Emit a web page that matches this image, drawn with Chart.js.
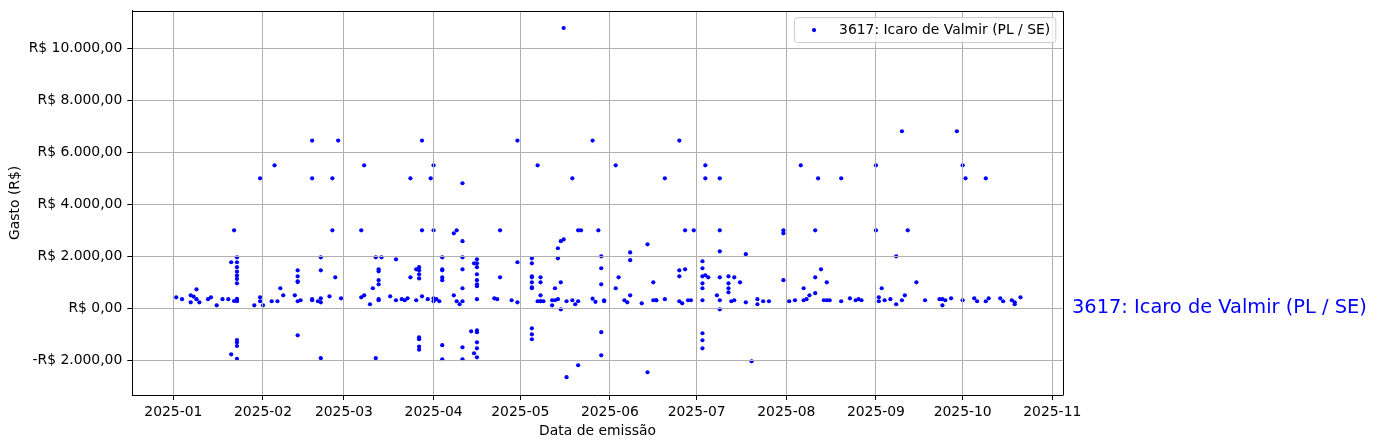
<!DOCTYPE html>
<html>
<head>
<meta charset="utf-8">
<script src="https://cdn.jsdelivr.net/npm/chart.js@4.4.1/dist/chart.umd.min.js"></script>
<style>
    html, body { margin: 0; padding: 0; background: #fff; }
    #wrap { width: 1377px; height: 448px; }
</style>
</head>
<body>
<div id="wrap"><canvas id="chart" width="1377" height="448"></canvas></div>
<script>
// Data
const seriesLabel = '3617: Icaro de Valmir (PL / SE)';

const emissionDates = [
    // jan
    '2025-01-02', '2025-01-04', '2025-01-07', '2025-01-08', '2025-01-09', '2025-01-10', '2025-01-13',
    '2025-01-14', '2025-01-16', '2025-01-18', '2025-01-20', '2025-01-21', '2025-01-22', '2025-01-23',
    '2025-01-29', '2025-01-31',
    // feb
    '2025-02-01', '2025-02-04', '2025-02-05', '2025-02-06', '2025-02-07', '2025-02-08', '2025-02-12',
    '2025-02-13', '2025-02-14', '2025-02-18', '2025-02-20', '2025-02-21', '2025-02-24', '2025-02-25',
    '2025-02-26', '2025-02-27', '2025-02-28',
    // mar
    '2025-03-07', '2025-03-08', '2025-03-10', '2025-03-11', '2025-03-12', '2025-03-13', '2025-03-14',
    '2025-03-17', '2025-03-19', '2025-03-21', '2025-03-22', '2025-03-23', '2025-03-24', '2025-03-26',
    '2025-03-27', '2025-03-28', '2025-03-30', '2025-03-31',
    // apr
    '2025-04-01', '2025-04-02', '2025-04-03', '2025-04-04', '2025-04-08', '2025-04-09', '2025-04-10',
    '2025-04-11', '2025-04-14', '2025-04-15', '2025-04-16', '2025-04-22', '2025-04-23', '2025-04-24',
    '2025-04-28', '2025-04-30',
    // may
    '2025-05-05', '2025-05-07', '2025-05-08', '2025-05-09', '2025-05-12', '2025-05-13', '2025-05-14',
    '2025-05-15', '2025-05-16', '2025-05-17', '2025-05-19', '2025-05-20', '2025-05-21', '2025-05-22',
    '2025-05-26', '2025-05-27', '2025-05-28', '2025-05-29', '2025-05-30',
    // jun
    '2025-06-03', '2025-06-04', '2025-06-06', '2025-06-07', '2025-06-08', '2025-06-12', '2025-06-14',
    '2025-06-16', '2025-06-17', '2025-06-20', '2025-06-25', '2025-06-26', '2025-06-27', '2025-06-28',
    '2025-06-29', '2025-06-30',
    // jul
    '2025-07-03', '2025-07-04', '2025-07-05', '2025-07-08', '2025-07-09', '2025-07-12', '2025-07-13',
    '2025-07-14', '2025-07-16', '2025-07-18', '2025-07-20', '2025-07-22', '2025-07-24', '2025-07-26',
    '2025-07-31',
    // aug
    '2025-08-02', '2025-08-04', '2025-08-06', '2025-08-07', '2025-08-08', '2025-08-09', '2025-08-11',
    '2025-08-12', '2025-08-13', '2025-08-14', '2025-08-15', '2025-08-16', '2025-08-20', '2025-08-23',
    '2025-08-25', '2025-08-26', '2025-08-27',
    // sep
    '2025-09-01', '2025-09-02', '2025-09-03', '2025-09-04', '2025-09-06', '2025-09-08', '2025-09-10',
    '2025-09-11', '2025-09-12', '2025-09-15', '2025-09-18', '2025-09-23', '2025-09-24', '2025-09-25',
    '2025-09-27', '2025-09-29',
    // oct
    '2025-10-01', '2025-10-02', '2025-10-05', '2025-10-06', '2025-10-09', '2025-10-10', '2025-10-14',
    '2025-10-15', '2025-10-18', '2025-10-19', '2025-10-21'
];

// one list of amounts (R$) per emission date above
const amountsByDate = [
    // jan
    [420], [350], [230, 500], [450], [350, 730], [230], [350],
    [420], [115], [350], [350], [1770, -1770], [3000, 280],
    [1960, 1770, 1580, 1410, 1260, 1130, 960, 270, 320, 360, -1220, -1320, -1450, -1940],
    [115], [5000, 420, 270],
    // feb
    [115], [270], [5500], [270], [770], [500], [500],
    [1460, 1230, 1040, 1010, 270, -1040], [310], [310, 350, 6450, 5000], [270],
    [1960, 1460, -1920, 385, 230], [460], [5000, 3000],
    [1190], [6450], [385],
    // mar
    [420, 3000], [5500, 500], [155], [770], [1960, -1920], [1500, 1420, 1080, 920, 310, 350], [1960],
    [460], [1885, 310], [350], [310], [385], [5000, 1190], [1500, 310],
    [1580, 1460, 1310, 1150, -1115, -1190, -1470, -1590], [460, 6450, 3000], [350], [5000],
    // apr
    [385, 270, 5500, 3000], [350], [270], [1960, 1500, 1460, 1190, 1080, -1420, -1960], [500, 2885], [3000, 270], [155],
    [4810, 2580, 1960, 1500, 770, 270, -1500, -1960], [-885], [1730, -1730],
    [1885, 1730, 1580, 1310, 1080, 920, 850, 350, -850, -920, -1310, -1540, -1885],
    [385], [350], [3000, 1190],
    [310], [6450, 1770, 230],
    // may
    [1920, 1730, 1230, 1190, 1000, 810, 770, -770, -1000, -1190], [5500, 270], [1190, 1000, 500, 270, 270], [270],
    [115, 310], [310, 770], [2310, 1920, 350],
    [2580, 1000, -40], [10780, 2650], [270, -2650], [5000, 310], [155], [3000, 270, -2190], [3000],
    [6450, 370], [250], [3000], [2000, 1540, 920, -920, -1810], [270, 310],
    // jun
    [5500, 770], [1190], [310], [230], [2150, 1850, 500], [190], [2460, -2460],
    [1000, 310], [310, 310], [5000, 350], [6450, 1460, 1230, 270], [190], [3000, 1500], [310],
    [310], [3000],
    // jul
    [1810, 1540, 1230, 960, 770, 310, -960, -1230, -1540], [5500, 5000, 1270], [1190], [500],
    [5000, 3000, 2190, 1190, 310, -40], [1230, 960, 770, 615], [270],
    [1190, 310], [1000], [2080, 230], [-2040], [350, 155], [270], [270],
    [3000, 2885, 1080],
    // aug
    [270], [310], [5500], [770, 310], [350], [500], [3000, 1190, 580],
    [5000], [1500], [310], [1000, 310], [310], [5000, 270], [385],
    [310], [350], [310],
    // sep
    [5500, 3000], [420, 270], [770], [310], [350], [2000, 155], [6810, 310],
    [500], [3000], [1000], [310], [350], [350, 115], [310],
    [385], [6810],
    // oct
    [5500, 310], [5000], [385], [270], [5000, 270], [385], [385],
    [270], [310], [230, 155], [420]
];

const monthTicks = ['2025-01-01', '2025-02-01', '2025-03-01', '2025-04-01', '2025-05-01', '2025-06-01',
    '2025-07-01', '2025-08-01', '2025-09-01', '2025-10-01', '2025-11-01'];
const amountTicks = [-2000, 0, 2000, 4000, 6000, 8000, 10000];

// Helpers
const DAY = 86400000;
const BASE = Date.UTC(2025, 0, 1);
const toDay = (s) => (Date.parse(s) - BASE) / DAY;
const monthLabel = (d) => new Date(BASE + d * DAY).toISOString().slice(0, 7);

const formatBRL = (v) => {
    const [int, dec] = Math.abs(v).toFixed(2).split('.');
    return (v < 0 ? '-' : '') + 'R$ ' + int.replace(/\B(?=(\d{3})+(?!\d))/g, '.') + ',' + dec;
};

const points = emissionDates.flatMap((d, i) => amountsByDate[i].map(v => ({ x: toDay(d), y: v })));

// axis limits (days since 2025-01-01 / R$)
const X_MIN = -14.2, X_MAX = 307.6;
const Y_MIN = -3335, Y_MAX = 11446;

const font = { family: '"DejaVu Sans"', size: 13.9 };

// Top/right spines, legend box and the side label
const framePlugin = {
    id: 'frame',
    afterDraw(chart) {
        const { ctx, chartArea: a, scales: { y } } = chart;
        ctx.save();
        ctx.strokeStyle = '#000';
        ctx.lineWidth = 1;
        ctx.beginPath();
        ctx.moveTo(Math.round(a.left) + 0.5, Math.round(a.top) + 0.5);
        ctx.lineTo(Math.round(a.right) + 0.5, Math.round(a.top) + 0.5);
        ctx.lineTo(Math.round(a.right) + 0.5, Math.round(a.bottom) + 0.5);
        ctx.stroke();

        // legend
        ctx.font = `${font.size}px ${font.family}`;
        const tw = ctx.measureText(seriesLabel).width;
        const w = 44.5 + tw + 5.6, h = 25;
        const left = a.right - 6.9 - w, top = a.top + 6.9;
        const r = 2.8;
        ctx.beginPath();
        ctx.moveTo(left + r, top);
        ctx.arcTo(left + w, top, left + w, top + h, r);
        ctx.arcTo(left + w, top + h, left, top + h, r);
        ctx.arcTo(left, top + h, left, top, r);
        ctx.arcTo(left, top, left + w, top, r);
        ctx.closePath();
        ctx.fillStyle = 'rgba(255,255,255,0.8)';
        ctx.fill();
        ctx.strokeStyle = '#cccccc';
        ctx.stroke();
        ctx.fillStyle = 'blue';
        ctx.beginPath();
        ctx.arc(left + 19.5, top + h / 2, 2.1, 0, Math.PI * 2);
        ctx.fill();
        ctx.fillStyle = '#000';
        ctx.textBaseline = 'middle';
        ctx.textAlign = 'left';
        ctx.fillText(seriesLabel, left + 44.5, top + h / 2 + 0.5);

        // label at the right of the axes, level with R$ 0
        ctx.fillStyle = 'blue';
        ctx.font = `19.4px ${font.family}`;
        ctx.fillText(seriesLabel, a.right + 9.3, y.getPixelForValue(0));
        ctx.restore();
    }
};

const ctx = document.getElementById('chart').getContext('2d');
new Chart(ctx, {
    type: 'scatter',
    data: {
        datasets: [{
            label: seriesLabel,
            data: points,
            backgroundColor: 'blue',
            borderColor: 'blue',
            borderWidth: 0,
            pointRadius: 2.1,
            pointHoverRadius: 2.1
        }]
    },
    options: {
        responsive: false,
        animation: false,
        devicePixelRatio: 1,
        events: [],
        layout: { padding: { top: 10.7, right: 314.3, bottom: 0, left: 0 } },
        plugins: {
            legend: { display: false },
            tooltip: { enabled: false }
        },
        scales: {
            x: {
                type: 'linear',
                min: X_MIN,
                max: X_MAX,
                afterBuildTicks: (s) => { s.ticks = monthTicks.map(d => ({ value: toDay(d) })); },
                afterFit: (s) => { s.height = 53; s.paddingLeft = 0; s.paddingRight = 0; },
                ticks: { callback: (v) => monthLabel(v), font, color: '#000', padding: 4, maxRotation: 0, autoSkip: false },
                grid: { color: '#b0b0b0', lineWidth: 1, tickColor: '#000', tickLength: 5, z: 1 },
                border: { color: '#000', width: 1, z: 1 },
                title: { display: true, text: 'Data de emissão', font, color: '#000', padding: { top: 0, bottom: 8.7 } }
            },
            y: {
                type: 'linear',
                min: Y_MIN,
                max: Y_MAX,
                afterBuildTicks: (s) => { s.ticks = amountTicks.map(v => ({ value: v })); },
                afterFit: (s) => { s.width = 132.3; s.paddingTop = 0; s.paddingBottom = 0; },
                ticks: { callback: (v) => formatBRL(v), font, color: '#000', padding: 5 },
                grid: { color: '#b0b0b0', lineWidth: 1, tickColor: '#000', tickLength: 5, z: 1 },
                border: { color: '#000', width: 1, z: 1 },
                title: { display: true, text: 'Gasto (R$)', font, color: '#000', padding: { top: 7.2, bottom: 0 } }
            }
        }
    },
    plugins: [framePlugin]
});
</script>
</body>
</html>
